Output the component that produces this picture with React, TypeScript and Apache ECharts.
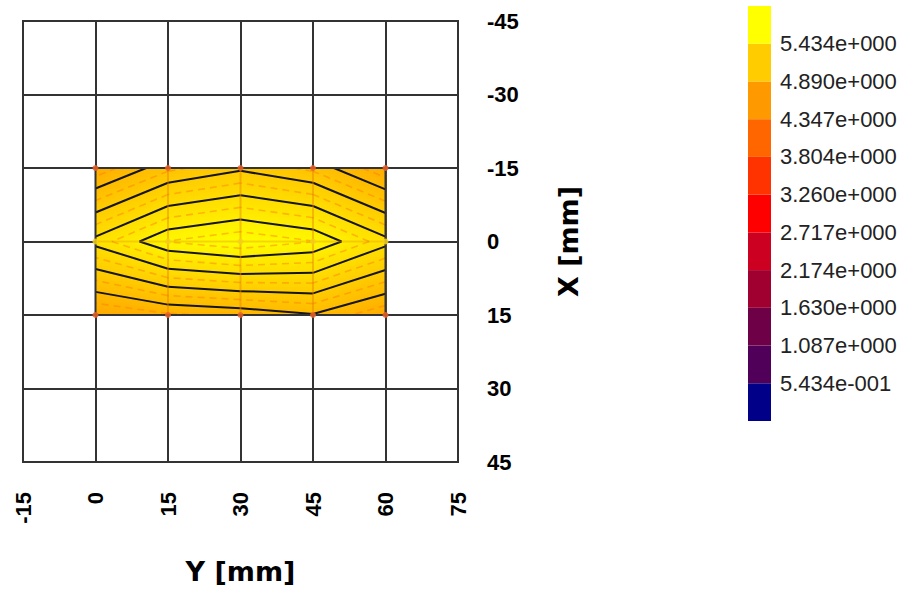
import React, { useEffect, useRef } from 'react';
import * as echarts from 'echarts';

// Mesh node positions
const Y_POS = [0, 15, 30, 45, 60]; // horizontal axis, Y [mm]
const X_POS = [-15, 0, 15]; // vertical axis, X [mm]

// Node values, one row per X position
const VAL_X_M15 = [4.555, 4.775, 4.869, 4.775, 4.546];
const VAL_X_0 = [5.108, 5.347, 5.416, 5.347, 5.108];
const VAL_X_15 = [4.526, 4.604, 4.637, 4.7, 4.546];
const NODE_ROWS = [VAL_X_M15, VAL_X_0, VAL_X_15];

// Contour levels
const BLACK_LEVELS = [4.347, 4.528, 4.709, 4.89, 5.071, 5.253, 5.434];
const DASH_LEVELS = [4.438, 4.619, 4.8, 4.981, 5.162, 5.343];

// Axis ticks
const Y_TICKS = [-15, 0, 15, 30, 45, 60, 75];
const X_TICKS = [-45, -30, -15, 0, 15, 30, 45];

// Colour bar (bottom to top)
const BAND_COLORS = ['#000088', '#500058', '#6e0048', '#a00030', '#cc0020', '#ff0000', '#ff3300', '#ff6600', '#ff9900', '#ffcc00', '#ffff00'];
const BAND_LABELS = ['5.434e-001', '1.087e+000', '1.630e+000', '2.174e+000', '2.717e+000', '3.260e+000', '3.804e+000', '4.347e+000', '4.890e+000', '5.434e+000'];

// Field colour stops
const FIELD_STOPS: [number, number[]][] = [
  [4.347, [255, 153, 0]],
  [4.89, [255, 204, 0]],
  [5.434, [255, 255, 0]],
];

function colorAt(v: number) {
  let c = FIELD_STOPS[0][1];
  if (v <= FIELD_STOPS[0][0]) c = FIELD_STOPS[0][1];
  else if (v >= FIELD_STOPS[FIELD_STOPS.length - 1][0]) c = FIELD_STOPS[FIELD_STOPS.length - 1][1];
  else {
    for (let i = 0; i < FIELD_STOPS.length - 1; i++) {
      const [a, ca] = FIELD_STOPS[i];
      const [b, cb] = FIELD_STOPS[i + 1];
      if (v >= a && v <= b) {
        const t = (v - a) / (b - a);
        c = ca.map((x, k) => Math.round(x + (cb[k] - x) * t));
        break;
      }
    }
  }
  return `rgb(${c[0]},${c[1]},${c[2]})`;
}

function cellCorners(ci: number, rj: number) {
  return {
    y0: Y_POS[ci], y1: Y_POS[ci + 1], x0: X_POS[rj], x1: X_POS[rj + 1],
    v00: NODE_ROWS[rj][ci], v10: NODE_ROWS[rj][ci + 1],
    v01: NODE_ROWS[rj + 1][ci], v11: NODE_ROWS[rj + 1][ci + 1],
  };
}

function cellSegments(c: any, level: number) {
  const pts = [
    { y: c.y0, x: c.x0, v: c.v00 },
    { y: c.y1, x: c.x0, v: c.v10 },
    { y: c.y1, x: c.x1, v: c.v11 },
    { y: c.y0, x: c.x1, v: c.v01 },
  ];
  const cross: number[][] = [];
  for (let e = 0; e < 4; e++) {
    const a = pts[e];
    const b = pts[(e + 1) % 4];
    if ((a.v - level) * (b.v - level) < 0) {
      const t = (level - a.v) / (b.v - a.v);
      cross.push([a.y + (b.y - a.y) * t, a.x + (b.x - a.x) * t]);
    }
  }
  const segs: number[][][] = [];
  if (cross.length === 2) segs.push([cross[0], cross[1]]);
  else if (cross.length === 4) {
    segs.push([cross[0], cross[1]]);
    segs.push([cross[2], cross[3]]);
  }
  return segs;
}

const CELLS: number[][] = [];
for (let ci = 0; ci < Y_POS.length - 1; ci++) for (let rj = 0; rj < X_POS.length - 1; rj++) CELLS.push([ci, rj]);

const NODES: number[][] = [];
NODE_ROWS.forEach((row, r) => row.forEach((v, c) => NODES.push([Y_POS[c], X_POS[r], v])));

const TICK_FONT = { fontFamily: 'Liberation Sans', fontWeight: 'bold' as const, fontSize: 22, color: '#000' };
const NAME_FONT = { fontFamily: 'DejaVu Sans', fontWeight: 'bold' as const, fontSize: 27, color: '#000' };

function renderField(params: any, api: any) {
  const c = cellCorners(api.value(0), api.value(1));
  const pA = api.coord([c.y0, c.x0]);
  const pB = api.coord([c.y1, c.x1]);
  const N = 24;
  const children: any[] = [];
  for (let a = 0; a < N; a++) {
    for (let b = 0; b < N; b++) {
      const u = (a + 0.5) / N;
      const w = (b + 0.5) / N;
      const v = c.v00 * (1 - u) * (1 - w) + c.v10 * u * (1 - w) + c.v01 * (1 - u) * w + c.v11 * u * w;
      const xa = pA[0] + (pB[0] - pA[0]) * (a / N);
      const xb = pA[0] + (pB[0] - pA[0]) * ((a + 1) / N);
      const ya = pA[1] + (pB[1] - pA[1]) * (b / N);
      const yb = pA[1] + (pB[1] - pA[1]) * ((b + 1) / N);
      children.push({
        type: 'rect',
        shape: { x: Math.min(xa, xb), y: Math.min(ya, yb), width: Math.abs(xb - xa) + 0.7, height: Math.abs(yb - ya) + 0.7 },
        style: { fill: colorAt(v) },
        silent: true,
      });
    }
  }
  return { type: 'group', children };
}

function renderContours(params: any, api: any) {
  const c = cellCorners(api.value(0), api.value(1));
  const children: any[] = [];
  DASH_LEVELS.forEach((L) => {
    cellSegments(c, L).forEach((s) => {
      const p = api.coord(s[0]);
      const q = api.coord(s[1]);
      children.push({
        type: 'line', shape: { x1: p[0], y1: p[1], x2: q[0], y2: q[1] },
        style: { stroke: '#ff7a00', lineWidth: 1.6, lineDash: [7, 5], opacity: 0.45 }, silent: true,
      });
    });
  });
  BLACK_LEVELS.forEach((L) => {
    cellSegments(c, L).forEach((s) => {
      const p = api.coord(s[0]);
      const q = api.coord(s[1]);
      children.push({
        type: 'line', shape: { x1: p[0], y1: p[1], x2: q[0], y2: q[1] },
        style: { stroke: '#151515', lineWidth: 2 }, silent: true,
      });
    });
  });
  return { type: 'group', children };
}

function renderFrame(params: any, api: any) {
  const children: any[] = [];
  const yMin = Y_POS[0], yMax = Y_POS[Y_POS.length - 1];
  const xMin = X_POS[0], xMax = X_POS[X_POS.length - 1];
  Y_POS.slice(1, -1).forEach((y) => {
    const p = api.coord([y, xMin]);
    const q = api.coord([y, xMax]);
    children.push({ type: 'line', shape: { x1: p[0], y1: p[1], x2: q[0], y2: q[1] }, style: { stroke: 'rgba(225,120,0,0.4)', lineWidth: 2 }, silent: true });
  });
  X_POS.slice(1, -1).forEach((x) => {
    const p = api.coord([yMin, x]);
    const q = api.coord([yMax, x]);
    children.push({ type: 'line', shape: { x1: p[0], y1: p[1], x2: q[0], y2: q[1] }, style: { stroke: 'rgba(225,150,0,0.35)', lineWidth: 2 }, silent: true });
  });
  const a = api.coord([yMin, xMin]);
  const b = api.coord([yMax, xMax]);
  children.push({
    type: 'rect',
    shape: { x: Math.min(a[0], b[0]), y: Math.min(a[1], b[1]), width: Math.abs(b[0] - a[0]), height: Math.abs(b[1] - a[1]) },
    style: { fill: 'none', stroke: '#333', lineWidth: 2 }, silent: true,
  });
  return { type: 'group', children };
}

export default function App() {
  const ref = useRef<HTMLDivElement>(null);
  useEffect(() => {
    const chart = echarts.init(ref.current!, null, { renderer: 'svg' });
    const option: any = {
      animation: false,
      backgroundColor: '#fff',
      grid: [
        { left: 23, right: 450, top: 21, bottom: 130, show: true, borderColor: '#333', borderWidth: 2, containLabel: false },
        { left: 748, width: 23, top: 6, height: 415, containLabel: false },
      ],
      xAxis: [
        {
          type: 'value', gridIndex: 0, min: Y_TICKS[0], max: Y_TICKS[Y_TICKS.length - 1], interval: 15,
          axisLine: { show: false }, axisTick: { show: false },
          splitLine: { show: true, lineStyle: { color: '#333', width: 2 } },
          axisLabel: { ...TICK_FONT, rotate: 90, margin: 30 },
          name: 'Y [mm]', nameLocation: 'middle', nameGap: 96, nameTextStyle: NAME_FONT,
        },
        { type: 'category', gridIndex: 1, data: [''], show: false },
      ],
      yAxis: [
        {
          type: 'value', gridIndex: 0, min: X_TICKS[0], max: X_TICKS[X_TICKS.length - 1], interval: 15, inverse: true, position: 'right',
          axisLine: { show: false }, axisTick: { show: false },
          splitLine: { show: true, lineStyle: { color: '#333', width: 2 } },
          axisLabel: { ...TICK_FONT, margin: 29 },
          name: 'X [mm]', nameLocation: 'middle', nameRotate: 90, nameGap: 97, nameTextStyle: NAME_FONT,
        },
        {
          type: 'value', gridIndex: 1, min: 0, max: BAND_COLORS.length, interval: 1, position: 'right',
          axisLine: { show: false }, axisTick: { show: false }, splitLine: { show: false },
          axisLabel: {
            margin: 9, fontFamily: 'Liberation Sans', fontSize: 22, color: '#222',
            formatter: (v: number) => (v >= 1 && v <= BAND_LABELS.length ? BAND_LABELS[Math.round(v) - 1] : ''),
          },
        },
      ],
      series: [
        { type: 'custom', name: 'field', xAxisIndex: 0, yAxisIndex: 0, data: CELLS, renderItem: renderField, z: 2, silent: true },
        { type: 'custom', name: 'contours', xAxisIndex: 0, yAxisIndex: 0, data: CELLS, renderItem: renderContours, z: 3, silent: true },
        { type: 'custom', name: 'frame', xAxisIndex: 0, yAxisIndex: 0, data: [[0, 0]], renderItem: renderFrame, z: 4, silent: true },
        {
          type: 'scatter', name: 'nodes', xAxisIndex: 0, yAxisIndex: 0, data: NODES, symbolSize: 6, z: 5, silent: true,
          itemStyle: { color: (p: any) => (p.value[1] === 0 ? '#f4d01c' : '#e8602a'), opacity: 0.85 },
        },
        ...BAND_COLORS.map((c, i) => ({
          type: 'bar', name: 'band' + i, xAxisIndex: 1, yAxisIndex: 1, stack: 'cb', data: [1], barWidth: 23,
          itemStyle: { color: c }, silent: true,
        })),
      ],
    };
    chart.setOption(option);
    return () => chart.dispose();
  }, []);
  return <div ref={ref} style={{ position: 'fixed', left: 0, top: 0, width: 908, height: 592 }} />;
}
